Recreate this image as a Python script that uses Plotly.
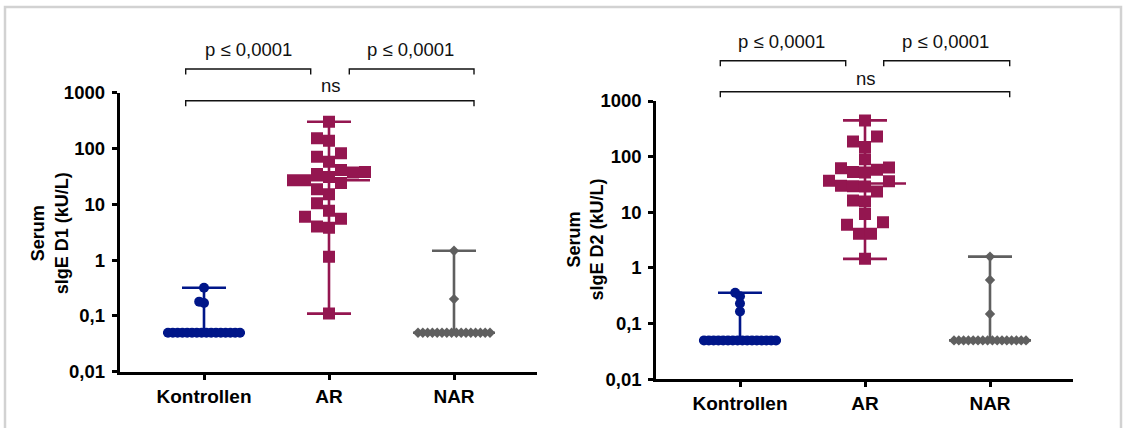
import numpy as np
import plotly.graph_objects as go

W, H = 1129, 428

categories = ["Kontrollen", "AR", "NAR"]
tick_vals = [0.01, 0.1, 1, 10, 100, 1000]
tick_text = ["0,01", "0,1", "1", "10", "100", "1000"]

# Panel 1: sIgE D1
d1_kontrollen = [0.32, 0.18, 0.17,
                 0.05, 0.05, 0.05, 0.05, 0.05, 0.05, 0.05, 0.05,
                 0.05, 0.05, 0.05, 0.05, 0.05, 0.05, 0.05, 0.05]
d1_ar = [302, 152, 138, 82, 71, 58, 41, 38, 37, 35, 31, 27, 27, 24,
         18.6, 15.1, 10.4, 7.7, 6.0, 5.5, 4.0, 3.8, 1.15, 0.11]
d1_nar = [1.47, 0.20,
          0.05, 0.05, 0.05, 0.05, 0.05, 0.05, 0.05, 0.05,
          0.05, 0.05, 0.05, 0.05, 0.05, 0.05, 0.05, 0.05]

# Panel 2: sIgE D2
d2_kontrollen = [0.36, 0.31, 0.23, 0.165,
                 0.05, 0.05, 0.05, 0.05, 0.05, 0.05, 0.05, 0.05,
                 0.05, 0.05, 0.05, 0.05, 0.05, 0.05, 0.05, 0.05]
d2_ar = [448, 231, 187, 149, 90, 64, 62, 58, 53, 52, 37, 36, 30, 29.3, 29,
         23.7, 16.3, 15.6, 9.3, 6.6, 6.0, 4.1, 4.1, 1.46]
d2_nar = [1.6, 0.61, 0.149,
          0.05, 0.05, 0.05, 0.05, 0.05, 0.05, 0.05, 0.05,
          0.05, 0.05, 0.05, 0.05, 0.05, 0.05, 0.05, 0.05]

y_titles = ["Serum<br>sIgE D1 (kU/L)", "Serum<br>sIgE D2 (kU/L)"]
sig_labels = ["p \u2264 0,0001", "p \u2264 0,0001", "ns"]

colors = ["#001689", "#941650", "#5f5f5f"]
symbols = ["circle", "square", "diamond"]
msizes = [10, 12, 8]
gaps = [4.8, 12, 4.8]

FONT = "Liberation Sans, Arial, sans-serif"


def px(x):
    return x / W


def py(y):
    return 1 - y / H


def swarm_offsets(values, gap_px, ppd, unit_px):
    v = np.asarray(values, float)
    offs = np.zeros(len(v))
    placed = []
    for u in np.unique(v):
        idx = np.where(v == u)[0]
        c = len(idx)
        base = (np.arange(c) - (c - 1) / 2) * gap_px
        yu = np.log10(u) * ppd
        k = 0
        chosen = None
        while chosen is None:
            shifts = [0.0] if k == 0 else [-k * gap_px / 2, k * gap_px / 2]
            for s in shifts:
                xs = base + s
                clash = any(abs(xx - qx) < gap_px - 1e-6 and abs(yu - qy) < gap_px - 1e-6
                            for xx in xs for qx, qy in placed)
                if not clash:
                    chosen = xs
                    break
            k += 1
        for i, xx in zip(idx, chosen):
            offs[i] = xx
            placed.append((xx, yu))
    return offs / unit_px


panels = [
    dict(data=[d1_kontrollen, d1_ar, d1_nar], xdom=(119.7, 537.0), ydom=(92.7, 371.7),
         cat0=204.0, unit=125.0, title=y_titles[0], title_xy=(49.3, 233),
         sig=[(248, 50), (410, 50), (330.7, 86)],
         br=[(185.7, 310.7, 69), (349.3, 474.0, 69), (185.7, 474.0, 100.7)]),
    dict(data=[d2_kontrollen, d2_ar, d2_nar], xdom=(656.3, 1073.3), ydom=(101.0, 379.3),
         cat0=740.0, unit=125.0, title=y_titles[1], title_xy=(585.5, 240),
         sig=[(781.7, 41.3), (945, 41.3), (865.7, 78.3)],
         br=[(720.3, 845.7, 60.7), (883.7, 1009.7, 60.7), (720.3, 1009.7, 91.7)]),
]

fig = go.Figure()
annotations = []
shapes = []

for p_i, p in enumerate(panels):
    xa = "x" if p_i == 0 else "x2"
    ya = "y" if p_i == 0 else "y2"
    ppd = (p["ydom"][1] - p["ydom"][0]) / 5.0
    xr = [(p["xdom"][0] - p["cat0"]) / p["unit"], (p["xdom"][1] - p["cat0"]) / p["unit"]]
    cap_half = 22 / p["unit"]
    med_half = 41 / p["unit"]

    # error bars (median with range)
    for g, vals in enumerate(p["data"]):
        arr = np.asarray(vals, float)
        lo, hi, med = arr.min(), arr.max(), np.median(arr)
        fig.add_trace(go.Scatter(
            x=[g, g, None, g - cap_half, g + cap_half, None, g - cap_half, g + cap_half,
               None, g - med_half, g + med_half],
            y=[lo, hi, None, hi, hi, None, lo, lo, None, med, med],
            mode="lines", line=dict(color=colors[g], width=2.6),
            xaxis=xa, yaxis=ya, showlegend=False, hoverinfo="skip"))

    # points
    for g, vals in enumerate(p["data"]):
        offs = swarm_offsets(vals, gaps[g], ppd, p["unit"])
        fig.add_trace(go.Scatter(
            x=g + offs, y=vals, mode="markers",
            marker=dict(symbol=symbols[g], size=msizes[g], color=colors[g],
                        line=dict(width=0)),
            xaxis=xa, yaxis=ya, showlegend=False, name=categories[g]))

    ax = dict(
        domain=[px(p["xdom"][0]), px(p["xdom"][1])], range=xr,
        tickvals=[0, 1, 2], ticktext=categories,
        showline=True, linecolor="black", linewidth=3, mirror=False,
        ticks="outside", ticklen=5, tickwidth=2.5, tickcolor="black",
        showgrid=False, zeroline=False, automargin=False,
        tickfont=dict(family=FONT, size=19, color="black", weight="bold"),
        anchor=ya,
    )
    ay = dict(
        domain=[py(p["ydom"][1]), py(p["ydom"][0])], type="log", range=[-2, 3],
        tickvals=tick_vals, ticktext=tick_text,
        showline=True, linecolor="black", linewidth=3, mirror=False,
        ticks="outside", ticklen=5, tickwidth=2.5, tickcolor="black",
        showgrid=False, zeroline=False, automargin=False,
        tickfont=dict(family=FONT, size=18.5, color="black", weight="bold"),
        anchor=xa, ticklabelstandoff=3,
    )
    if p_i == 0:
        fig.update_layout(xaxis=ax, yaxis=ay)
    else:
        fig.update_layout(xaxis2=ax, yaxis2=ay)

    annotations.append(dict(
        text=p["title"], x=px(p["title_xy"][0]), y=py(p["title_xy"][1]),
        xref="paper", yref="paper", showarrow=False, textangle=-90,
        xanchor="center", yanchor="middle",
        font=dict(family=FONT, size=18, color="black", weight="bold")))

    for lab, (tx, ty) in zip(sig_labels, p["sig"]):
        annotations.append(dict(
            text=lab, x=px(tx), y=py(ty), xref="paper", yref="paper",
            showarrow=False, xanchor="center", yanchor="middle",
            font=dict(family=FONT, size=18.5, color="#111111")))

    for (x0, x1, yb) in p["br"]:
        path = "M {a},{b} L {a},{c} L {d},{c} L {d},{b}".format(
            a=px(x0), b=py(yb + 5.5), c=py(yb), d=px(x1))
        shapes.append(dict(type="path", path=path, xref="paper", yref="paper",
                           line=dict(color="#111111", width=1.4)))

# light frame around the figure
shapes.append(dict(type="rect", xref="paper", yref="paper",
                   x0=px(5), x1=px(1121), y0=py(445), y1=py(7),
                   line=dict(color="#d2d2d2", width=2.5)))

fig.update_layout(
    width=W, height=H,
    margin=dict(l=0, r=0, t=0, b=0, pad=0),
    paper_bgcolor="white", plot_bgcolor="white",
    annotations=annotations, shapes=shapes,
    showlegend=False,
)

fig.write_html("out.html",
               config={"displayModeBar": False},
               post_script="document.body.style.margin='0';document.body.style.overflow='hidden';")
